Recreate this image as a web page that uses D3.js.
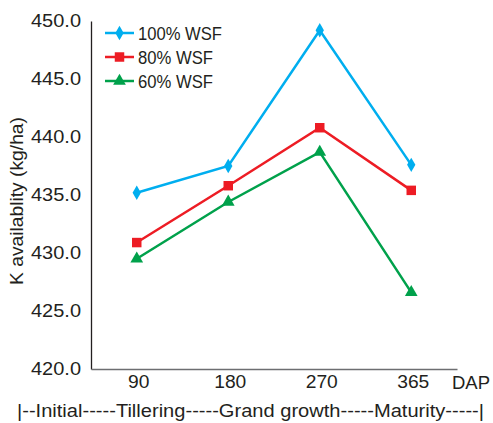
<!DOCTYPE html>
<html><head><meta charset="utf-8">
<script src="https://cdn.jsdelivr.net/npm/d3@7"></script>
<style>body{margin:0;background:#fff}svg{display:block;font-family:Arial,"Liberation Sans",sans-serif}</style>
</head><body>
<svg id="c" width="493" height="423"></svg>
<script>
const categories = ["90","180","270","365"];
const seriesNames = ["100% WSF","80% WSF","60% WSF"];
const wsf100 = [435.2, 437.5, 449.2, 437.6];
const wsf80 = [430.9, 435.8, 440.8, 435.4];
const wsf60 = [429.5, 434.4, 438.7, 426.6];
const yTicks = [420,425,430,435,440,445,450];
const colors = ["#00aeef","#ed1c24","#00a14b"];
const shapes = [d3.symbolDiamond, d3.symbolSquare, d3.symbolTriangle];
const seriesVals = [wsf100, wsf80, wsf60];
const FONT = "Arial,'Liberation Sans',sans-serif";
const TXT = "#231f20";

const svg = d3.select("#c");
const x = d3.scaleBand().domain(categories).range([91,457]).padding(0);
const y = d3.scaleLinear().domain([420,450]).range([369,21]);

// y axis
const ya = svg.append("g").attr("transform","translate(91,0)")
  .call(d3.axisLeft(y).tickValues(yTicks).tickSize(0).tickPadding(10).tickFormat(d3.format(".1f")));
ya.select(".domain").attr("stroke","#231f20").attr("stroke-width",1.3);
ya.selectAll("text").attr("font-size",17.5).attr("fill",TXT).attr("font-family",FONT)
  .attr("textLength",50).attr("lengthAdjust","spacingAndGlyphs");

// x axis
const xa = svg.append("g").attr("transform","translate(0,369)")
  .call(d3.axisBottom(x).tickSize(0).tickPadding(7));
xa.select(".domain").attr("stroke","#6d6e71").attr("stroke-width",1.3);
xa.selectAll("text").attr("font-size",17.5).attr("fill",TXT).attr("font-family",FONT)
  .attr("dx",2)
  .attr("textLength",d=>d.length*10.7).attr("lengthAdjust","spacingAndGlyphs");

svg.append("text").attr("x",452).attr("y",389).attr("font-size",17.5).attr("fill",TXT)
  .attr("textLength",38).attr("lengthAdjust","spacingAndGlyphs").text("DAP");
svg.append("text").attr("x",17).attr("y",417).attr("font-size",17.5).attr("fill",TXT)
  .attr("textLength",467).attr("lengthAdjust","spacingAndGlyphs")
  .text("|--Initial-----Tillering-----Grand growth-----Maturity-----|");

svg.append("text").attr("transform","translate(23,201) rotate(-90)").attr("text-anchor","middle")
  .attr("font-size",18).attr("fill",TXT).attr("textLength",168).attr("lengthAdjust","spacingAndGlyphs")
  .text("K availablity (kg/ha)");

const line = d3.line().x((d,i)=>x(categories[i])+x.bandwidth()/2).y(d=>y(d));
const sizes = [60, 90, 70];
seriesVals.forEach((vals,k)=>{
  svg.append("path").datum(vals).attr("d",line).attr("fill","none").attr("stroke",colors[k]).attr("stroke-width",2.5);
  svg.selectAll(null).data(vals).enter().append("path")
    .attr("d",d3.symbol().type(shapes[k]).size(sizes[k]))
    .attr("transform",(d,i)=>`translate(${x(categories[i])+x.bandwidth()/2},${y(d)})`)
    .attr("fill",colors[k]);
});

// legend
const legendLen = [84,75,75];
seriesNames.forEach((n,k)=>{
  const yy = 33 + k*24;
  svg.append("line").attr("x1",105).attr("x2",134).attr("y1",yy).attr("y2",yy).attr("stroke",colors[k]).attr("stroke-width",2.5);
  svg.append("path").attr("d",d3.symbol().type(shapes[k]).size(sizes[k])).attr("transform",`translate(119.5,${yy})`).attr("fill",colors[k]);
  svg.append("text").attr("x",138).attr("y",yy+6.5).attr("font-size",17.5).attr("fill",TXT)
    .attr("textLength",legendLen[k]).attr("lengthAdjust","spacingAndGlyphs").text(n);
});
</script>
</body></html>
